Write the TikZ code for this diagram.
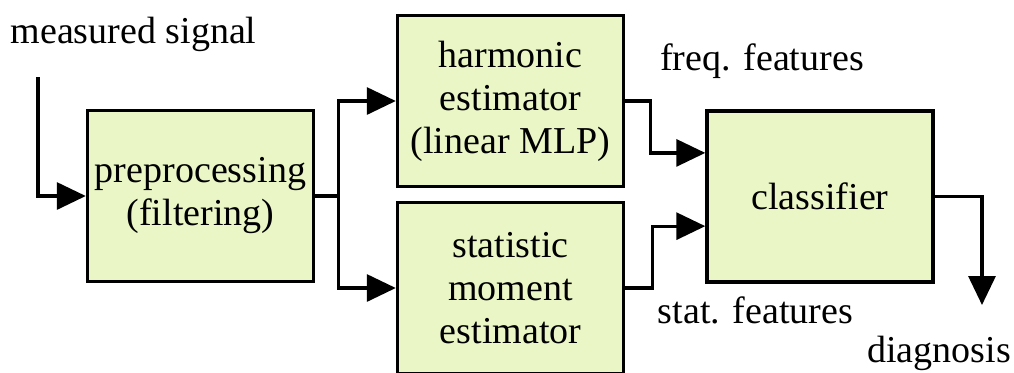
\documentclass[tikz,border=0pt]{standalone}
\usepackage{fontspec}
\setmainfont{Liberation Serif}
\usepackage{tikz}
\usetikzlibrary{arrows.meta, calc}
\definecolor{blkfill}{RGB}{234, 246, 198}

\begin{document}
\begin{tikzpicture}[x=0.5pt, y=-0.5pt,
        blk/.style={rectangle, draw=black, fill=blkfill, line width=1.7pt, align=center,
                    minimum width=113pt, minimum height=85.5pt, inner sep=0pt,
                    font=\fontsize{19}{21.5}\selectfont},
        conn/.style={line width=1.6pt, -{Triangle[length=14.5pt, width=13.5pt]}},
        lbl/.style={anchor=base, inner sep=0pt, font=\fontsize{19}{21.5}\selectfont}
      ]
        \useasboundingbox (0,0) rectangle (1014,372);
        \clip (0,0) rectangle (1014,372);
        \node[blk] (pre) at (200.5, 196) {preprocessing\\(filtering)};
        \node[blk] (harm) at (510.5, 101) {harmonic\\estimator\\(linear MLP)};
        \node[blk] (stat) at (510.5, 288) {statistic\\moment\\estimator};
        \node[blk] (clf) at (820, 196.5) {classifier};
        \coordinate (in) at (38, 77);
        \coordinate (out) at (982, 305);
        \draw[conn] (in) |- (pre.west);
        \draw[conn] (pre.east) -- ++(23,0) |- (harm.west);
        \draw[conn] (pre.east) -- ++(23,0) |- (stat.west);
        \draw[conn] (harm.east) -- ++(25,0) |- ($(clf.north west)!0.25!(clf.south west)$);
        \draw[conn] (stat.east) -- ++(27,0) |- ($(clf.north west)!0.67!(clf.south west)$);
        \draw[conn] (clf.east) -| (out);
        \node[lbl] (insig) at (133.5, 43) {measured signal};
        \node[lbl] (freq) at (762, 70) {freq. features};
        \node[lbl] (statf) at (755.5, 323) {stat. features};
        \node[lbl] (diag) at (939, 362) {diagnosis};
      \end{tikzpicture}
\end{document}
